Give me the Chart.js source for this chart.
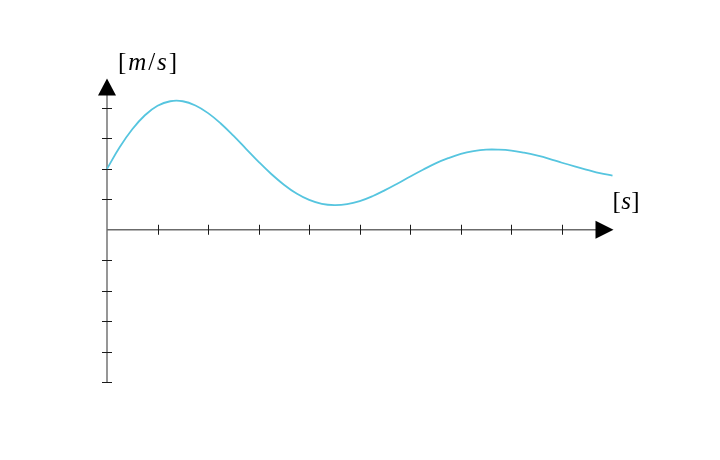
<!DOCTYPE html>
<html>
<head>
<meta charset="utf-8">
<script src="https://cdn.jsdelivr.net/npm/chart.js@4/dist/chart.umd.min.js"></script>
<style>
  html, body { margin: 0; padding: 0; background: #fff; }
  #wrap { width: 720px; height: 460px; position: relative; }
</style>
</head>
<body>
<div id="wrap"><canvas id="chart" width="720" height="460"></canvas></div>
<script>
// time [s]
const times = [
  0, 0.25, 0.5, 0.75, 1, 1.25, 1.5, 1.75, 2, 2.25, 2.5, 2.75, 3, 3.25, 3.5, 3.75,
  4, 4.25, 4.5, 4.75, 5, 5.25, 5.5, 5.75, 6, 6.25, 6.5, 6.75, 7, 7.25, 7.5, 7.75,
  8, 8.25, 8.5, 8.75, 9, 9.25, 9.5, 9.75, 10
];
// speed [m/s]
const speeds = [
  2.00, 2.71, 3.30, 3.76, 4.07, 4.22, 4.22, 4.08, 3.83, 3.49, 3.09, 2.66, 2.23, 1.83, 1.48, 1.19,
  0.98, 0.85, 0.81, 0.84, 0.94, 1.10, 1.30, 1.52, 1.75, 1.97, 2.18, 2.35, 2.49, 2.58, 2.63, 2.63,
  2.60, 2.53, 2.44, 2.33, 2.20, 2.08, 1.97, 1.86, 1.78
];
const xTicks = [1, 2, 3, 4, 5, 6, 7, 8, 9];
const yTicks = [-5, -4, -3, -2, -1, 1, 2, 3, 4];
const xLabel = "s";
const yLabel = "m/s";

// draws the math-style axes with arrows
const arrowAxes = {
  id: "arrowAxes",
  beforeDatasetsDraw(chart) {
    const ctx = chart.ctx;
    const xs = chart.scales.x, ys = chart.scales.y;
    const x0 = xs.getPixelForValue(0), y0 = ys.getPixelForValue(0);
    const xEnd = xs.getPixelForValue(10), yTop = ys.getPixelForValue(5);
    const yBot = ys.getPixelForValue(-5);
    ctx.save();
    // axis lines
    ctx.strokeStyle = "#6b6b6b";
    ctx.lineWidth = 1.4;
    ctx.beginPath();
    ctx.moveTo(x0, y0); ctx.lineTo(xEnd - 14, y0);
    ctx.moveTo(x0, yBot); ctx.lineTo(x0, yTop + 14);
    ctx.stroke();
    // ticks
    ctx.strokeStyle = "#1a1a1a";
    ctx.lineWidth = 1;
    ctx.beginPath();
    xTicks.forEach((v) => {
      const px = Math.round(xs.getPixelForValue(v)) + 0.5;
      ctx.moveTo(px, y0 - 5); ctx.lineTo(px, y0 + 5);
    });
    yTicks.forEach((v) => {
      const py = Math.round(ys.getPixelForValue(v)) + 0.5;
      ctx.moveTo(x0 - 5, py); ctx.lineTo(x0 + 5, py);
    });
    ctx.stroke();
    // arrow heads
    ctx.fillStyle = "#000";
    ctx.beginPath();
    ctx.moveTo(xEnd + 1, y0); ctx.lineTo(xEnd - 17, y0 - 9); ctx.lineTo(xEnd - 17, y0 + 9);
    ctx.closePath(); ctx.fill();
    ctx.beginPath();
    ctx.moveTo(x0, yTop + 1); ctx.lineTo(x0 - 9, yTop + 18); ctx.lineTo(x0 + 9, yTop + 18);
    ctx.closePath(); ctx.fill();
    // unit labels, latex-ish: brackets and slash upright, letters italic
    ctx.fillStyle = "#000";
    ctx.textBaseline = "alphabetic";
    function unit(str, x, y, width) {
      const up = "25px 'Liberation Serif', serif";
      const it = "italic 25px 'Liberation Serif', serif";
      const parts = [["[", up]];
      str.split("").forEach((c) => parts.push([c, c === "/" ? up : it]));
      parts.push(["]", up]);
      let natural = 0;
      parts.forEach(([t, f]) => { ctx.font = f; natural += ctx.measureText(t).width; });
      const gap = Math.max(0, (width - natural) / (parts.length - 1));
      let cx = x;
      parts.forEach(([t, f]) => {
        ctx.font = f;
        ctx.fillText(t, cx, y);
        cx += ctx.measureText(t).width + gap;
      });
    }
    unit(yLabel, x0 + 11, 70, 59);
    unit(xLabel, xEnd + 0, 209, 27);
    ctx.restore();
  }
};

new Chart(document.getElementById("chart"), {
  type: "line",
  data: {
    datasets: [{
      data: times.map((t, i) => ({ x: t, y: speeds[i] })),
      borderColor: "#56c5df",
      borderWidth: 1.8,
      pointRadius: 0,
      tension: 0.4,
      fill: false,
      clip: false
    }]
  },
  options: {
    responsive: false,
    animation: false,
    layout: { padding: { left: 107, right: 107.5, top: 77.5, bottom: 78 } },
    plugins: { legend: { display: false }, tooltip: { enabled: false } },
    scales: {
      x: { type: "linear", min: 0, max: 10, display: false },
      y: { type: "linear", min: -5, max: 5, display: false }
    }
  },
  plugins: [arrowAxes]
});
</script>
</body>
</html>
